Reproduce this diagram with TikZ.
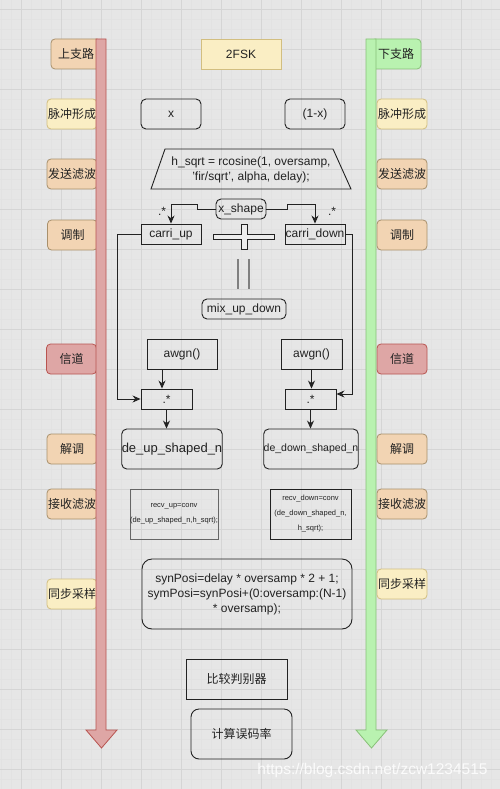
\documentclass[tikz,border=0pt]{standalone}
\usepackage{fontspec}
\setmainfont{Liberation Sans}
\newfontfamily\cjk{Noto Sans CJK SC}
\usetikzlibrary{arrows.meta,calc}
\definecolor{bg}{HTML}{E6E6E6}
\definecolor{gminor}{HTML}{E2E2E2}
\definecolor{gmajor}{HTML}{D5D5D5}
\definecolor{peachF}{HTML}{F2D4B3}
\definecolor{peachD}{HTML}{A8906C}
\definecolor{yelF}{HTML}{FAEEC4}
\definecolor{yelD}{HTML}{D2BE80}
\definecolor{redF}{HTML}{DEA6A5}
\definecolor{redD}{HTML}{B85450}
\definecolor{grnF}{HTML}{B9F2B0}
\definecolor{grnD}{HTML}{88C078}
\definecolor{txt}{HTML}{222222}
\definecolor{lnc}{HTML}{222222}
\definecolor{plusF}{HTML}{EDEDED}
\begin{document}
\begin{tikzpicture}[x=1pt,y=-1pt,
  lab/.style={draw, rounded corners=4pt, minimum width=50pt, minimum height=30pt, inner sep=0pt, font=\cjk\fontsize{12}{14}\selectfont, text=txt, line width=0.8pt},
  peach/.style={lab, fill=peachF, draw=peachD},
  yel/.style={lab, fill=yelF, draw=yelD},
  redl/.style={lab, fill=redF, draw=redD},
  grnl/.style={lab, fill=grnF, draw=grnD},
  box/.style={draw=lnc, line width=0.9pt, inner sep=0pt, font=\fontsize{12}{14}\selectfont, text=txt, align=center},
  rbox/.style={box, rounded corners=5pt},
  arr/.style={draw=lnc, line width=0.9pt, -{Stealth[length=8pt,width=7pt]}},
  lnk/.style={draw=lnc, line width=0.9pt},
  tiny/.style={font=\fontsize{7.5}{15}\selectfont}
]
\useasboundingbox (0,0) rectangle (500,789);
\fill[bg] (0,0) rectangle (500,789);
\foreach \x in {1,11,...,491} \draw[gminor, line width=0.6pt] (\x,0) -- (\x,789);
\foreach \y in {9,19,...,789} \draw[gminor, line width=0.6pt] (0,\y) -- (500,\y);
\foreach \x in {21,61,...,501} \draw[gmajor, line width=0.9pt] (\x,0) -- (\x,789);
\foreach \y in {9,49,...,789} \draw[gmajor, line width=0.9pt] (0,\y) -- (500,\y);

% left labels
\node[peach] (l0) at (76,54) {上支路};
\node[yel]   (l1) at (72,114) {脉冲形成};
\node[peach] (l2) at (72,174) {发送滤波};
\node[peach] (l3) at (72.5,235) {调制};
\node[redl]  (l4) at (71.5,359) {信道};
\node[peach] (l5) at (72,449) {解调};
\node[peach] (l6) at (72,504) {接收滤波};
\node[yel]   (l7) at (72,594) {同步采样};
% right labels
\node[grnl]  (r0) at (396,54) {下支路};
\node[yel]   (r1) at (402,114) {脉冲形成};
\node[peach] (r2) at (402,174) {发送滤波};
\node[peach] (r3) at (402,235) {调制};
\node[redl]  (r4) at (402,359) {信道};
\node[peach] (r5) at (402,449) {解调};
\node[peach] (r6) at (402,504) {接收滤波};
\node[yel]   (r7) at (402,584) {同步采样};

% big arrows
\filldraw[fill=redF, draw=redD, line width=0.8pt] (96,39) -- (106,39) -- (106,730) -- (117,730) -- (101.5,748) -- (86,730) -- (96,730) -- cycle;
\filldraw[fill=grnF, draw=grnD, line width=0.8pt] (366,39) -- (376,39) -- (376,730) -- (387,730) -- (371.5,748) -- (356,730) -- (366,730) -- cycle;

% main boxes
\node[box, fill=yelF, draw=yelD, minimum width=80pt, minimum height=30pt] (fsk) at (241,54) {2FSK};
\node[rbox, minimum width=60pt, minimum height=30pt] (xb) at (171,114) {x};
\node[rbox, minimum width=60pt, minimum height=30pt] (onex) at (315,114) {(1-x)};
\draw[lnk] (165,149) -- (333,149) -- (351,189) -- (151,189) -- cycle;
\node[align=center, font=\fontsize{12}{15}\selectfont, text=txt] (hs) at (251,169.5) {h\_sqrt = rcosine(1, oversamp,\\'fir/sqrt', alpha, delay);};

\node[rbox, minimum width=50pt, minimum height=20pt] (xs) at (241,209) {x\_shape};
\node[box, minimum width=60pt, minimum height=20pt] (cu) at (171,234) {carri\_up};
\node[box, minimum width=60pt, minimum height=20pt] (cd) at (315,234) {carri\_down};
\node[font=\fontsize{12}{14}\selectfont, text=txt] (s1) at (162,211) {.*};
\node[font=\fontsize{12}{14}\selectfont, text=txt] (s2) at (332,211) {.*};
\draw[arr] (xs.west) -- (197,209) -- (197,204) -| (cu.north);
\draw[arr] (xs.east) -- (287,209) -- (287,204) -| (cd.north);

% plus sign
\filldraw[fill=plusF, draw=lnc, line width=0.8pt] (213,234) -- (241,234) -- (241,224) -- (247,224) -- (247,234) -- (274,234) -- (274,239) -- (247,239) -- (247,249) -- (241,249) -- (241,239) -- (213,239) -- cycle;
% equal sign
\draw[gray, line width=1.4pt] (238,259) -- (238,289);
\draw[gray, line width=1.4pt] (249,259) -- (249,289);

\node[rbox, minimum width=84pt, minimum height=20pt] (mix) at (244,309) {mix\_up\_down};
\node[box, minimum width=70pt, minimum height=30pt] (aw1) at (182,354) {awgn()};
\node[box, minimum width=61pt, minimum height=30pt] (aw2) at (311.5,354) {awgn()};
\node[box, minimum width=51pt, minimum height=20pt] (m1) at (166.5,399) {.*};
\node[box, minimum width=51pt, minimum height=20pt] (m2) at (310.5,399) {.*};

\draw[arr] (cu.west) -- (117,234) |- (m1.west);
\draw[arr] (cd.east) -- (352,234) |- ($(m2.east)+(0,-5)$);
\draw[arr] ([xshift=-20pt]aw1.south) -- ([xshift=-4.5pt]m1.north);
\draw[arr] (aw2.south) -- (aw2.south |- m2.north);

\node[rbox, minimum width=90pt, minimum height=40pt, font=\fontsize{13}{15}\selectfont] (du) at (172,449) {de\_up\_shaped\_n};
\node[rbox, minimum width=90pt, minimum height=40pt, font=\fontsize{10.5}{13}\selectfont] (dd) at (311,449) {de\_down\_shaped\_n};
\draw[arr] (m1.south) -- (m1.south |- du.north);
\draw[arr] (m2.south) -- (m2.south |- dd.north);

\node[box, draw=gray!80!black, minimum width=80pt, minimum height=50pt, tiny] (ru) at (174,514) {recv\_up=conv\\(de\_up\_shaped\_n,h\_sqrt);};
\node[box, minimum width=81pt, minimum height=50pt, tiny] (rd) at (310.5,514) {recv\_down=conv\\(de\_down\_shaped\_n,\\h\_sqrt);};

\node[box, rounded corners=10pt, minimum width=210pt, minimum height=70pt, font=\fontsize{12}{15}\selectfont] (syn) at (247,594) {synPosi=delay * oversamp * 2 + 1;\\symPosi=synPosi+(0:oversamp:(N-1)\\* oversamp);};

\node[box, minimum width=101pt, minimum height=40pt, font=\cjk\fontsize{12}{14}\selectfont] (cmp) at (236.5,679) {比较判别器};
\node[rbox, rounded corners=8pt, minimum width=101pt, minimum height=50pt, font=\cjk\fontsize{12}{14}\selectfont] (ber) at (241.5,734) {计算误码率};

\node[font=\fontsize{15.5}{17}\selectfont, text=white, opacity=0.85] (wm) at (372.5,770) {https://blog.csdn.net/zcw1234515};
\end{tikzpicture}
\end{document}
